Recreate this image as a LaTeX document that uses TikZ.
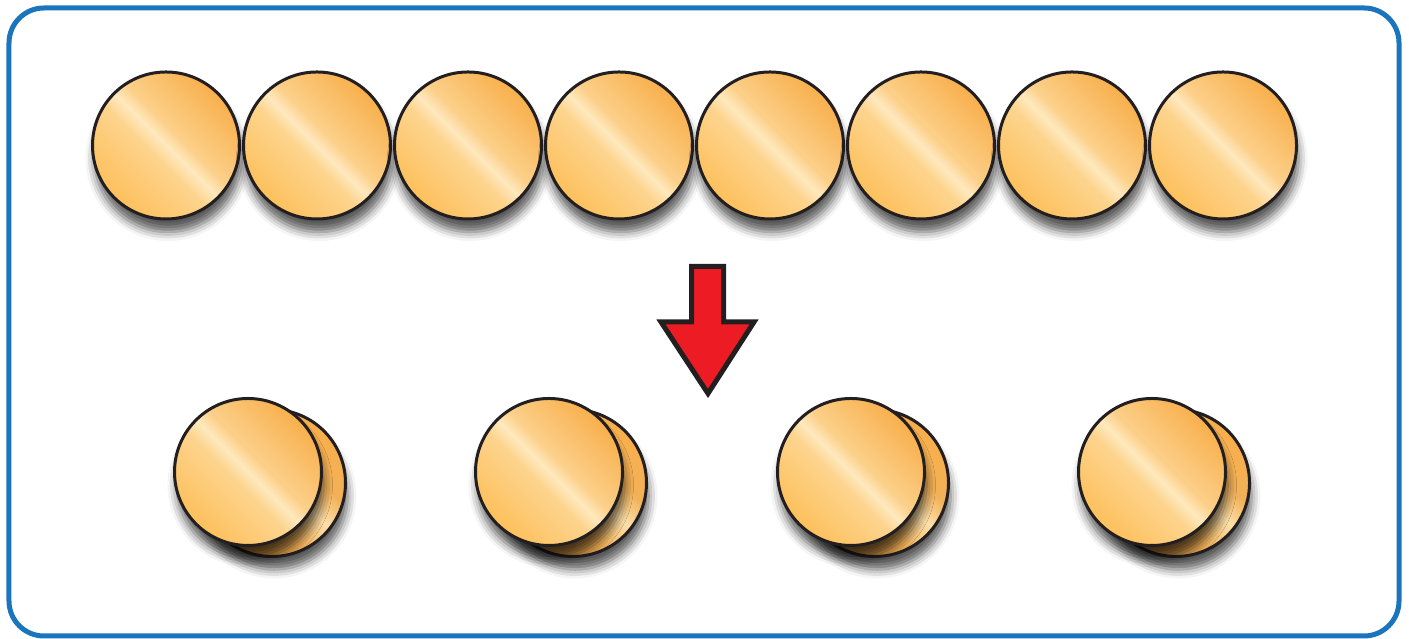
\documentclass[tikz,border=0pt]{standalone}
\usetikzlibrary{shadows.blur}
\definecolor{framebl}{RGB}{27,117,188}
\definecolor{coinline}{RGB}{35,31,32}
\definecolor{arrowred}{RGB}{237,28,36}
\definecolor{coinA}{RGB}{253,192,92}
\definecolor{coinB}{RGB}{253,212,142}
\definecolor{coinC}{RGB}{255,233,190}
\definecolor{coinD}{RGB}{252,208,138}
\definecolor{coinE}{RGB}{248,175,76}
\definecolor{backA}{RGB}{186,126,52}
\definecolor{backB}{RGB}{242,177,88}
\definecolor{backC}{RGB}{253,224,170}
\pgfdeclareverticalshading{coin}{100bp}{color(0bp)=(coinA); color(25bp)=(coinA); color(45bp)=(coinB); color(50bp)=(coinC); color(55bp)=(coinD); color(75bp)=(coinE); color(100bp)=(coinE)}
\pgfdeclareverticalshading{backside}{100bp}{color(0bp)=(backA); color(27bp)=(backA); color(42bp)=(backB); color(53bp)=(backC); color(62bp)=(backB); color(75bp)=(coinE); color(100bp)=(coinE)}
\begin{document}
\begin{tikzpicture}[
  coin/.style={circle, draw=coinline, line width=0.03cm, minimum size=1.47cm, inner sep=0pt,
    shading=coin, shading angle=-45,
    blur shadow={shadow xshift=0.02cm, shadow yshift=-0.13cm, shadow blur radius=0.09cm, shadow opacity=65}},
  backcoin/.style={coin, shading=backside}
]
  \useasboundingbox (0, 0) rectangle (14.09, 6.39);
  % Frame
  \draw[framebl, line width=0.05cm, rounded corners=0.35cm] (0.09, 0.03) rectangle (13.99, 6.31);
  % Top row
  \node (t1) [coin] at (1.66, 4.935) {};
  \node (t2) [coin] at (3.17, 4.935) {};
  \node (t3) [coin] at (4.68, 4.935) {};
  \node (t4) [coin] at (6.19, 4.935) {};
  \node (t5) [coin] at (7.70, 4.935) {};
  \node (t6) [coin] at (9.21, 4.935) {};
  \node (t7) [coin] at (10.72, 4.935) {};
  \node (t8) [coin] at (12.23, 4.935) {};
  % Arrow
  \draw[coinline, fill=arrowred, line width=0.05cm, miter limit=10]
    (6.915, 3.725) -- (7.235, 3.725) -- (7.235, 3.17) -- (7.54, 3.17) -- (7.08, 2.455)
    -- (6.61, 3.17) -- (6.915, 3.17) -- cycle;
  % Bottom row (pairs)
  \node (b1) [backcoin] at (2.72, 1.56) {};
  \node (f1) [coin] at (2.48, 1.67) {};
  \node (b2) [backcoin] at (5.73, 1.56) {};
  \node (f2) [coin] at (5.49, 1.67) {};
  \node (b3) [backcoin] at (8.75, 1.56) {};
  \node (f3) [coin] at (8.51, 1.67) {};
  \node (b4) [backcoin] at (11.76, 1.56) {};
  \node (f4) [coin] at (11.52, 1.67) {};
\end{tikzpicture}
\end{document}
